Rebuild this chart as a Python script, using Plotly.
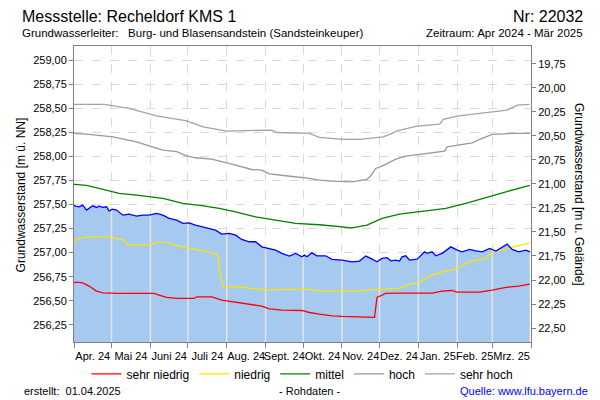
import numpy as np
import pandas as pd
import plotly.graph_objects as go

# ---------------- data ----------------
mess_dates = ["2024-04-01","2024-04-02","2024-04-05","2024-04-08","2024-04-11","2024-04-13","2024-04-16","2024-04-19",
              "2024-04-21","2024-04-24","2024-04-27","2024-04-29","2024-05-02","2024-05-05","2024-05-07","2024-05-10",
              "2024-05-15","2024-05-21","2024-05-26","2024-05-31","2024-06-06","2024-06-11","2024-06-16","2024-06-22",
              "2024-06-27","2024-07-02","2024-07-07","2024-07-12","2024-07-18","2024-07-23","2024-07-28","2024-08-03",
              "2024-08-08","2024-08-13","2024-08-19","2024-08-24","2024-08-29","2024-09-04","2024-09-09","2024-09-14",
              "2024-09-20","2024-09-25","2024-09-30","2024-10-02","2024-10-04","2024-10-08","2024-10-12","2024-10-19",
              "2024-10-24","2024-11-01","2024-11-09","2024-11-15","2024-11-20","2024-11-24","2024-11-29","2024-12-03",
              "2024-12-07","2024-12-10","2024-12-14","2024-12-17","2024-12-19","2024-12-22","2024-12-25","2024-12-31",
              "2025-01-06","2025-01-08","2025-01-12","2025-01-15","2025-01-20","2025-01-27","2025-02-01","2025-02-05",
              "2025-02-11","2025-02-16","2025-02-21","2025-02-27","2025-03-04","2025-03-13","2025-03-17","2025-03-22",
              "2025-03-28","2025-03-31"]
mess_values = [257.494,257.484,257.477,257.494,257.443,257.460,257.487,257.470,
               257.484,257.470,257.477,257.435,257.453,257.443,257.425,257.390,
               257.400,257.380,257.390,257.390,257.408,257.390,257.356,257.338,
               257.304,257.310,257.286,257.268,257.252,257.234,257.192,257.200,
               257.182,257.137,257.113,257.113,257.060,257.044,257.026,256.992,
               256.964,256.992,256.957,256.974,256.957,256.998,256.967,256.967,
               256.930,256.922,256.904,256.912,256.964,256.940,256.904,256.940,
               256.947,256.915,256.922,256.912,256.957,256.967,256.922,256.932,
               257.008,256.992,257.008,256.967,256.992,257.060,257.026,257.008,
               257.033,257.019,257.008,257.044,257.016,257.088,257.033,257.008,
               257.026,257.008]

sehr_hoch_dates = ["2024-04-01","2024-04-25","2024-05-15","2024-05-31","2024-06-06","2024-06-30","2024-07-13","2024-08-01",
                   "2024-09-06","2024-09-10","2024-10-06","2024-10-14","2024-11-02","2024-11-15","2024-12-04","2024-12-11",
                   "2024-12-15","2024-12-31","2025-01-18","2025-01-21","2025-02-01","2025-02-19","2025-03-13","2025-03-21",
                   "2025-03-31"]
sehr_hoch_values = [258.542,258.542,258.500,258.448,258.424,258.371,258.309,258.264,
                    258.275,258.250,258.240,258.200,258.178,258.178,258.205,258.240,
                    258.267,258.316,258.337,258.386,258.420,258.448,258.483,258.535,
                    258.542]

hoch_dates = ["2024-04-01","2024-04-13","2024-05-02","2024-05-21","2024-05-31","2024-06-11","2024-06-22","2024-06-30",
              "2024-07-07","2024-07-20","2024-08-05","2024-08-21","2024-08-29","2024-09-04","2024-09-17","2024-09-30",
              "2024-10-06","2024-10-14","2024-10-24","2024-11-09","2024-11-21","2024-11-24","2024-11-28","2024-12-03",
              "2024-12-14","2024-12-22","2025-01-02","2025-01-12","2025-01-22","2025-01-24","2025-02-03","2025-02-13",
              "2025-02-19","2025-03-01","2025-03-17","2025-03-31"]
hoch_values = [258.240,258.230,258.205,258.153,258.110,258.067,258.050,258.007,
               257.987,257.973,257.920,257.865,257.858,257.820,257.800,257.782,
               257.772,257.754,257.744,257.737,257.762,257.800,257.876,257.900,
               257.973,258.004,258.025,258.040,258.056,258.100,258.120,258.143,
               258.178,258.230,258.240,258.240]

mittel_dates = ["2024-04-01","2024-04-11","2024-04-21","2024-05-02","2024-05-07","2024-05-21","2024-05-31","2024-06-11",
                "2024-06-27","2024-07-12","2024-07-26","2024-08-08","2024-08-24","2024-09-09","2024-09-25","2024-10-14",
                "2024-10-24","2024-11-09","2024-11-21","2024-12-03","2024-12-17","2024-12-27","2025-01-04","2025-01-23",
                "2025-02-08","2025-02-24","2025-03-12","2025-03-31"]
mittel_values = [257.710,257.700,257.668,257.633,257.616,257.598,257.580,257.564,
                 257.512,257.490,257.460,257.425,257.373,257.338,257.304,257.290,
                 257.275,257.258,257.286,257.356,257.400,257.418,257.425,257.460,
                 257.512,257.574,257.633,257.700]

niedrig_dates = ["2024-04-01","2024-04-02","2024-04-11","2024-04-29","2024-05-07","2024-05-11","2024-05-14","2024-05-31",
                 "2024-06-06","2024-06-15","2024-06-19","2024-07-07","2024-07-23","2024-07-25","2024-07-27","2024-07-29",
                 "2024-08-08","2024-08-21","2024-09-04","2024-09-14","2024-10-06","2024-10-14","2024-11-15","2024-11-28",
                 "2024-12-17","2024-12-25","2025-01-02","2025-01-10","2025-01-18","2025-02-01","2025-02-11","2025-02-24",
                 "2025-03-01","2025-03-12","2025-03-20","2025-03-31"]
niedrig_values = [257.100,257.137,257.163,257.163,257.140,257.130,257.080,257.080,
                  257.106,257.106,257.080,257.033,256.992,256.957,256.749,256.652,
                  256.645,256.627,256.610,256.617,256.617,256.600,256.600,256.617,
                  256.627,256.672,256.696,256.758,256.793,256.835,256.904,256.940,
                  257.008,257.033,257.067,257.100]

sehr_niedrig_dates = ["2024-04-01","2024-04-03","2024-04-08","2024-04-13","2024-04-19","2024-04-24","2024-05-07","2024-06-04",
                      "2024-06-08","2024-06-14","2024-06-22","2024-07-06","2024-07-08","2024-07-20","2024-07-28","2024-08-08",
                      "2024-08-19","2024-08-29","2024-09-04","2024-09-14","2024-09-30","2024-10-06","2024-10-14","2024-10-24",
                      "2024-11-01","2024-11-17","2024-11-27","2024-11-29","2024-12-06","2024-12-17","2025-01-12","2025-01-20",
                      "2025-01-28","2025-02-01","2025-02-19","2025-03-01","2025-03-12","2025-03-22","2025-03-31"]
sehr_niedrig_values = [256.686,256.693,256.686,256.652,256.600,256.582,256.575,256.575,
                       256.558,256.534,256.523,256.523,256.540,256.540,256.506,256.485,
                       256.461,256.443,256.415,256.401,256.398,256.377,256.360,256.342,
                       256.336,256.326,256.326,256.534,256.575,256.578,256.578,256.600,
                       256.606,256.589,256.589,256.610,256.638,256.652,256.673]

month_starts = ["2024-04-01","2024-05-01","2024-06-01","2024-07-01","2024-08-01","2024-09-01","2024-10-01",
                "2024-11-01","2024-12-01","2025-01-01","2025-02-01","2025-03-01","2025-04-01"]
month_labels = ["Apr. 24","Mai 24","Juni 24","Juli 24","Aug. 24","Sept. 24","Okt. 24","Nov. 24",
                "Dez. 24","Jan. 25","Feb. 25","Mrz. 25"]
left_ticks = [256.25,256.50,256.75,257.00,257.25,257.50,257.75,258.00,258.25,258.50,258.75,259.00]
right_ticks = [19.75,20.00,20.25,20.50,20.75,21.00,21.25,21.50,21.75,22.00,22.25,22.50]
GELAENDE = 278.715   # ground level (m ü. NN) linking both axes

Y_RANGE = [256.07, 259.15]

# ---------------- derived ----------------
ms = pd.to_datetime(month_starts)
mid_months = [ms[i] + (ms[i + 1] - ms[i]) / 2 for i in range(len(ms) - 1)]

mess_dt = pd.to_datetime(mess_dates)
mess_num = mess_dt.values.astype("int64")
vx, vy = [], []
for b in ms[1:-1]:
    top = float(np.interp(b.value, mess_num, mess_values))
    vx += [b, b, None]
    vy += [Y_RANGE[0], top, None]

FONT = "Liberation Sans, Arial, sans-serif"
AX = "#808080"
GRID = "#d9d9d9"

fig = go.Figure()
fig.add_trace(go.Scatter(x=mess_dt, y=mess_values, mode="lines", line=dict(width=0),
                         fill="tozeroy", fillcolor="rgb(166,201,240)", showlegend=False, hoverinfo="skip"))
fig.add_trace(go.Scatter(x=vx, y=vy, mode="lines", line=dict(color="#e4e4e4", width=1.5),
                         showlegend=False, hoverinfo="skip"))

refs = [("sehr niedrig", sehr_niedrig_dates, sehr_niedrig_values, "#ff0000"),
        ("niedrig", niedrig_dates, niedrig_values, "#ffe400"),
        ("mittel", mittel_dates, mittel_values, "#008000"),
        ("hoch", hoch_dates, hoch_values, "#999999"),
        ("sehr hoch", sehr_hoch_dates, sehr_hoch_values, "#a3a3a3")]
for name, d, v, c in refs:
    fig.add_trace(go.Scatter(x=pd.to_datetime(d), y=v, mode="lines", name=name,
                             line=dict(color=c, width=1.3)))

fig.add_trace(go.Scatter(x=mess_dt, y=mess_values, mode="lines", line=dict(color="#0000ff", width=1.3),
                         showlegend=False, name="Messwerte"))
# depth trace on right axis (invisible) so the secondary axis is rendered
fig.add_trace(go.Scatter(x=mess_dt, y=[GELAENDE - v for v in mess_values], yaxis="y2", mode="lines",
                         line=dict(width=0), opacity=0, showlegend=False, hoverinfo="skip"))

fig.update_layout(
    width=600, height=400,
    margin=dict(l=74, r=69, t=46, b=58),
    paper_bgcolor="white", plot_bgcolor="white",
    separators=",.",
    font=dict(family=FONT, size=11, color="#000000"),
    xaxis=dict(type="date", range=[ms[0], ms[-1]], tickvals=mid_months, ticktext=month_labels,
               tickangle=0,
               ticks="outside", ticklen=4, tickcolor="rgba(0,0,0,0)", showgrid=False,
               showline=True, linecolor=AX, linewidth=1, mirror=True,
               tickfont=dict(size=11, color="#000000"),
               minor=dict(tickvals=ms, ticks="outside", ticklen=5, tickcolor=AX,
                          showgrid=True, gridcolor=GRID, griddash="dash", gridwidth=1)),
    yaxis=dict(range=Y_RANGE, tickvals=left_ticks, tickformat=".2f", ticks="outside", ticklen=4,
               tickcolor=AX, showline=True, linecolor=AX, linewidth=1, zeroline=False,
               showgrid=True, gridcolor=GRID, griddash="dash", gridwidth=1,
               tickfont=dict(size=11, color="#000000")),
    yaxis2=dict(overlaying="y", side="right", range=[GELAENDE - Y_RANGE[0], GELAENDE - Y_RANGE[1]],
                tickvals=right_ticks, tickformat=".2f", ticks="outside", ticklen=4, tickcolor=AX,
                showline=True, linecolor=AX, linewidth=1, zeroline=False, showgrid=False,
                tickfont=dict(size=11, color="#000000")),
    legend=dict(orientation="h", x=0.5, xanchor="center", y=-0.108, yanchor="middle",
                font=dict(size=12, color="#000000"), itemwidth=30, bgcolor="rgba(0,0,0,0)"),
)

def ann(text, x, y, xanchor="left", size=12, color="#000000", angle=0):
    fig.add_annotation(text=text, x=x, y=y, xref="paper", yref="paper", xanchor=xanchor,
                       yanchor="middle", showarrow=False, textangle=angle,
                       font=dict(family=FONT, size=size, color=color))

ann("Messstelle: Recheldorf KMS 1", -0.1182, 1.098, size=16)
ann("Nr: 22032", 1.1182, 1.098, xanchor="right", size=16)
ann("Grundwasserleiter:\u00a0\u00a0 Burg- und Blasensandstein (Sandsteinkeuper)", -0.1182, 1.044, size=11.5)
ann("Zeitraum: Apr 2024 - Mär 2025", 1.1182, 1.044, xanchor="right", size=11.5)
ann("Grundwasserstand [m ü. NN]", -0.117, 0.497, xanchor="center", size=12, angle=-90)
ann("Grundwasserstand [m u. Gelände]", 1.105, 0.497, xanchor="center", size=12, angle=90)
ann("erstellt:\u00a0 01.04.2025", -0.1138, -0.1655, size=11)
ann("- Rohdaten -", 0.516, -0.1655, xanchor="center", size=11)
ann("Quelle: www.lfu.bayern.de", 1.129, -0.1655, xanchor="right", size=11, color="#0000ff")

fig.write_html("out.html", config={"displayModeBar": False},
               post_script="document.body.style.margin='0px';")
